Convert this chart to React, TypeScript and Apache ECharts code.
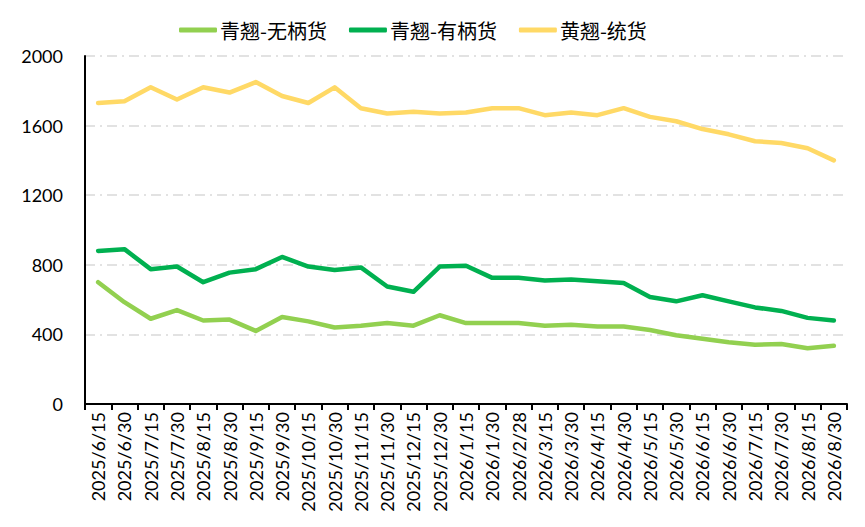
import React, { useEffect, useRef } from 'react';
import * as echarts from 'echarts';

const dates = [
  '2025/6/15', '2025/6/30', '2025/7/15', '2025/7/30', '2025/8/15', '2025/8/30',
  '2025/9/15', '2025/9/30', '2025/10/15', '2025/10/30', '2025/11/15', '2025/11/30',
  '2025/12/15', '2025/12/30', '2026/1/15', '2026/1/30', '2026/2/28', '2026/3/15',
  '2026/3/30', '2026/4/15', '2026/4/30', '2026/5/15', '2026/5/30', '2026/6/15',
  '2026/6/30', '2026/7/15', '2026/7/30', '2026/8/15', '2026/8/30'
];

// 青翘-无柄货
const qingNoStem = [
  700, 585, 490, 540, 480, 485, 420, 500, 475, 440, 450, 465, 450, 510, 465,
  465, 465, 450, 455, 445, 445, 425, 395, 375, 355, 340, 345, 320, 335
];

// 青翘-有柄货
const qingStem = [
  880, 890, 775, 790, 700, 755, 775, 845, 790, 770, 785, 675, 645, 790, 795,
  725, 725, 710, 715, 705, 695, 615, 590, 625, 590, 555, 535, 495, 480
];

// 黄翘-统货
const huangAll = [
  1730, 1740, 1820, 1750, 1820, 1790, 1850, 1770, 1730, 1820, 1700, 1670, 1680, 1670, 1675,
  1700, 1700, 1660, 1675, 1660, 1700, 1650, 1625, 1580, 1550, 1510, 1500, 1470, 1400
];

const seriesNames = ['青翘-无柄货', '青翘-有柄货', '黄翘-统货'];
const seriesColors = ['#92d050', '#00b050', '#ffd966'];

export default function App() {
  const chartRef = useRef<HTMLDivElement>(null);

  useEffect(() => {
    if (!chartRef.current) return;
    const chart = echarts.init(chartRef.current, null, { renderer: 'svg' });

    const allData = [qingNoStem, qingStem, huangAll];

    chart.setOption({
      animation: false,
      backgroundColor: '#ffffff',
      legend: {
        top: 15,
        left: 174,
        itemWidth: 38,
        itemHeight: 5,
        itemGap: 22,
        icon: 'roundRect',
        textStyle: {
          fontFamily: '"Noto Sans CJK SC", sans-serif',
          fontSize: 20,
          color: '#000000',
          padding: [0, 0, 0, -2]
        },
        data: seriesNames
      },
      grid: { left: 85, right: 18, top: 56, bottom: 123 },
      xAxis: {
        type: 'category',
        data: dates,
        boundaryGap: true,
        axisLine: { show: true, lineStyle: { color: '#000000', width: 2 } },
        axisTick: { show: true, inside: false, length: 6, lineStyle: { color: '#000000', width: 2 } },
        axisLabel: {
          interval: 0,
          rotate: 90,
          margin: 8,
          color: '#000000',
          fontFamily: 'Lato, "Liberation Sans", sans-serif',
          fontSize: 18
        },
        splitLine: { show: false }
      },
      yAxis: {
        type: 'value',
        min: 0,
        max: 2000,
        interval: 400,
        axisLine: { show: true, lineStyle: { color: '#000000', width: 2 } },
        axisTick: { show: false },
        axisLabel: {
          color: '#000000',
          margin: 22,
          formatter: (v: number) => String(v),
          fontFamily: 'Lato, "Liberation Sans", sans-serif',
          fontSize: 18
        },
        splitLine: {
          show: true,
          lineStyle: { color: '#d9d9d9', width: 1.5, type: [10, 5, 2, 5] }
        }
      },
      series: seriesNames.map((name, i) => ({
        name,
        type: 'line',
        data: allData[i],
        showSymbol: false,
        symbol: 'none',
        color: seriesColors[i],
        lineStyle: { color: seriesColors[i], width: 4.5, cap: 'round', join: 'round' },
        z: 3 - i
      }))
    });

    return () => chart.dispose();
  }, []);

  return (
    <div
      ref={chartRef}
      style={{ position: 'fixed', left: 0, top: 0, width: 865, height: 527 }}
    />
  );
}
